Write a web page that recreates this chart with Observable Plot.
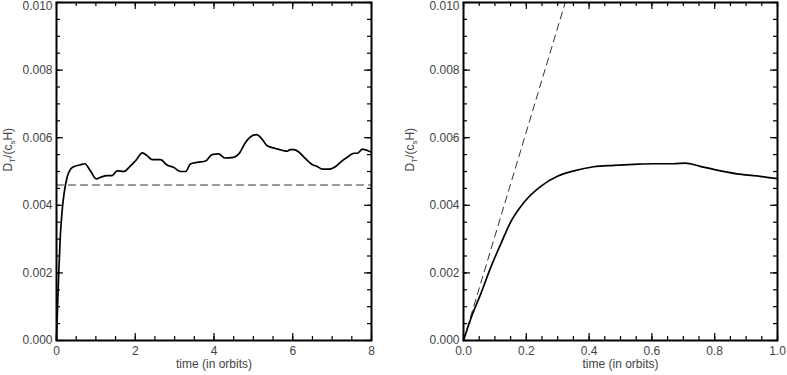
<!DOCTYPE html>
<html>
<head>
<meta charset="utf-8">
<script src="https://cdn.jsdelivr.net/npm/d3@7"></script>
<script src="https://cdn.jsdelivr.net/npm/@observablehq/plot@0.6"></script>
<style>
  body { margin: 0; background: #fff; }
  #wrap { display: flex; width: 787px; height: 375px; }
  svg { font-family: "Liberation Sans", Arial, sans-serif; }
</style>
</head>
<body>
<div id="wrap"></div>
<script>
// ---- Data ----
const leftTime = [0, 0.03, 0.06, 0.1, 0.14, 0.19, 0.27, 0.40, 0.61, 0.72, 0.86, 1.01, 1.12, 1.29, 1.41, 1.54, 1.71, 1.88, 2.01, 2.18, 2.30, 2.43, 2.64, 2.81, 2.98, 3.15, 3.28, 3.40, 3.57, 3.79, 3.95, 4.12, 4.27, 4.50, 4.63, 4.80, 4.93, 5.08, 5.22, 5.35, 5.56, 5.73, 5.86, 5.94, 6.03, 6.16, 6.33, 6.50, 6.62, 6.75, 6.92, 7.09, 7.26, 7.43, 7.55, 7.64, 7.77, 7.85, 8.0];
const leftValue = [0, 0.0011, 0.0021, 0.00315, 0.0038, 0.00433, 0.00483, 0.00512, 0.0052, 0.00523, 0.00502, 0.00478, 0.00483, 0.00488, 0.00488, 0.00502, 0.0050, 0.00517, 0.00532, 0.00555, 0.00547, 0.00535, 0.00535, 0.00519, 0.00512, 0.0050, 0.0050, 0.00522, 0.00527, 0.00531, 0.0055, 0.00552, 0.0054, 0.00542, 0.00552, 0.00586, 0.00603, 0.00609, 0.00596, 0.00576, 0.00568, 0.00563, 0.0056, 0.00565, 0.00565, 0.00557, 0.00537, 0.0052, 0.00515, 0.00507, 0.00507, 0.00515, 0.00532, 0.00546, 0.00554, 0.00554, 0.00566, 0.00564, 0.00557];
const leftRefTime = [0, 8];
const leftRefValue = [0.0046, 0.0046];

const rightTime = [0, 0.029, 0.055, 0.087, 0.119, 0.150, 0.193, 0.246, 0.299, 0.352, 0.415, 0.479, 0.542, 0.606, 0.669, 0.707, 0.754, 0.807, 0.871, 0.934, 1.0];
const rightValue = [0, 0.00079, 0.00138, 0.00217, 0.00286, 0.0035, 0.00409, 0.00456, 0.00486, 0.00502, 0.00514, 0.00518, 0.00521, 0.00523, 0.00523, 0.00525, 0.00515, 0.00504, 0.00493, 0.00487, 0.00479];
const rightRefTime = [0, 0.324];
const rightRefValue = [0, 0.010];

const yMajor = [0, 0.002, 0.004, 0.006, 0.008];
const yTop = [0.010];
const yMinor = d3.range(0, 0.01001, 0.0005);
const leftXMajor = [0, 2, 4, 6, 8];
const leftXMinor = d3.range(0, 8.001, 0.5);
const rightXMajor = [0, 0.2, 0.4, 0.6, 0.8, 1.0];
const rightXMinor = d3.range(0, 1.0001, 0.05);

const xTitle = "time (in orbits)";

function panel({width, marginLeft, marginRight, xDomain, xMajor, xMinor, xFormat,
                solidT, solidV, refT, refV, labelDx}) {
  const height = 375, marginTop = 2, marginBottom = 35;
  const pw = width - marginLeft - marginRight;
  const ph = height - marginTop - marginBottom;
  const majLen = 7, minLen = 4;
  const yAll = yMajor.concat(yTop);
  const solid = solidT.map((t, i) => ({t, v: solidV[i]}));
  const ref = refT.map((t, i) => ({t, v: refV[i]}));
  const svg = Plot.plot({
    width, height, marginLeft, marginRight, marginTop, marginBottom,
    style: {fontFamily: '"Liberation Sans", Arial, sans-serif', fontSize: "12px", color: "#444", background: "#fff"},
    x: {domain: xDomain, axis: null},
    y: {domain: [0, 0.01], axis: null},
    marks: [
      Plot.line(ref, {x: "t", y: "v", stroke: "#333", strokeWidth: 1, strokeDasharray: "7,5", clip: true}),
      Plot.line(solid, {x: "t", y: "v", stroke: "#000", strokeWidth: 1.7, curve: "monotone-x"}),
      // inward ticks, bottom & top
      Plot.tickX(xMajor, {x: d => d, stroke: "#000", strokeWidth: 1.2, insetTop: ph - majLen}),
      Plot.tickX(xMinor, {x: d => d, stroke: "#000", strokeWidth: 1.2, insetTop: ph - minLen}),
      Plot.tickX(xMajor, {x: d => d, stroke: "#000", strokeWidth: 1.2, insetBottom: ph - majLen}),
      Plot.tickX(xMinor, {x: d => d, stroke: "#000", strokeWidth: 1.2, insetBottom: ph - minLen}),
      // inward ticks, left & right
      Plot.tickY(yAll, {y: d => d, stroke: "#000", strokeWidth: 1.2, insetRight: pw - majLen}),
      Plot.tickY(yMinor, {y: d => d, stroke: "#000", strokeWidth: 1.2, insetRight: pw - minLen}),
      Plot.tickY(yAll, {y: d => d, stroke: "#000", strokeWidth: 1.2, insetLeft: pw - majLen}),
      Plot.tickY(yMinor, {y: d => d, stroke: "#000", strokeWidth: 1.2, insetLeft: pw - minLen}),
      Plot.frame({stroke: "#000", strokeWidth: 2}),
      Plot.axisX(xMajor, {tickSize: 0, tickPadding: 6, tickFormat: xFormat, label: null, fill: "#444"}),
      Plot.axisY(yMajor, {tickSize: 0, tickPadding: 4, tickFormat: d3.format(".3f"), label: null, fill: "#444"}),
      Plot.axisY(yTop, {tickSize: 0, tickPadding: 4, tickFormat: d3.format(".3f"), label: null, fill: "#444", dy: 4}),
      Plot.text([xTitle], {frameAnchor: "bottom", dy: 27, fill: "#444", fontSize: 12}),
      Plot.text(["Y"], {frameAnchor: "left", dx: labelDx, rotate: -90, fill: "#444", fontSize: 12, className: "ylabel"})
    ]
  });
  // y-axis title with subscripts
  const t = d3.select(svg).select("g.ylabel text");
  t.text(null);
  t.append("tspan").text("D");
  t.append("tspan").attr("font-size", 8).attr("dy", 3).text("T");
  t.append("tspan").attr("dy", -3).text("/(c");
  t.append("tspan").attr("font-size", 8).attr("dy", 3).text("s");
  t.append("tspan").attr("dy", -3).text("H)");
  return svg;
}

const wrap = document.getElementById("wrap");
wrap.appendChild(panel({
  width: 400, marginLeft: 56, marginRight: 29,
  xDomain: [0, 8], xMajor: leftXMajor, xMinor: leftXMinor, xFormat: d3.format("d"),
  solidT: leftTime, solidV: leftValue, refT: leftRefTime, refV: leftRefValue, labelDx: -48
}));
wrap.appendChild(panel({
  width: 387, marginLeft: 63, marginRight: 10,
  xDomain: [0, 1], xMajor: rightXMajor, xMinor: rightXMinor, xFormat: d3.format(".1f"),
  solidT: rightTime, solidV: rightValue, refT: rightRefTime, refV: rightRefValue, labelDx: -53
}));
</script>
</body>
</html>
